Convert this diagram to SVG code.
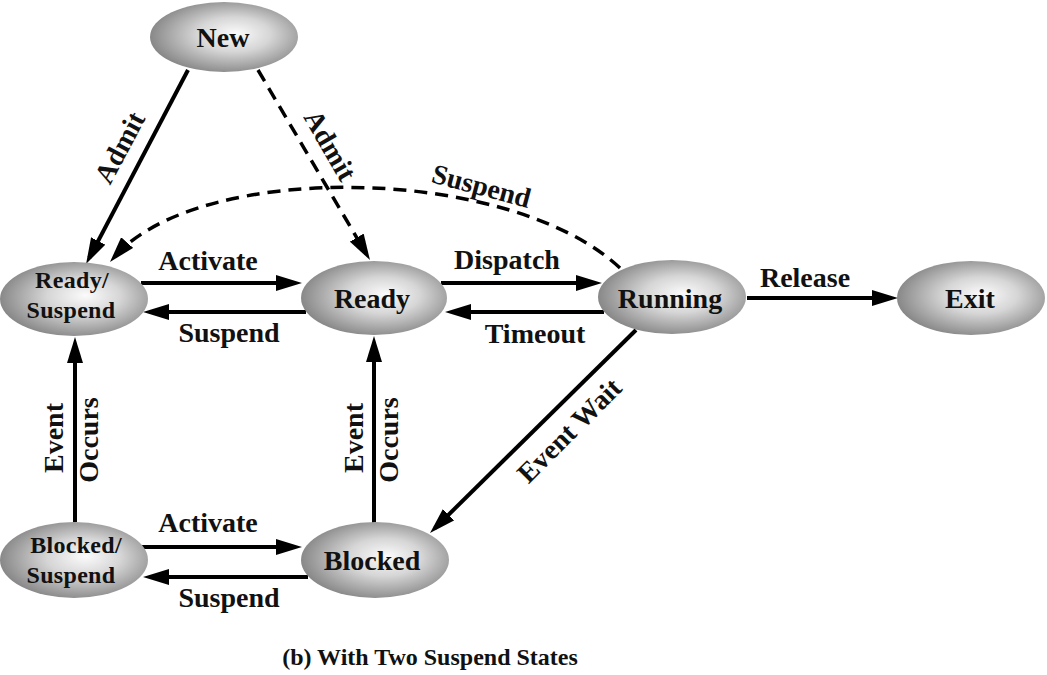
<svg xmlns="http://www.w3.org/2000/svg" width="1047" height="675" viewBox="0 0 1047 675">
  <style>
    .node ellipse { fill: url(#g); stroke: none; }
    text { font-family: "Liberation Serif", "Times New Roman", serif; font-weight: bold; fill: #111; }
    .nl { font-size: 28px; text-anchor: middle; }
    .ns { font-size: 24px; letter-spacing: 0.3px; text-anchor: middle; }
    .lb { font-size: 28px; text-anchor: middle; }
    .cap { font-size: 24px; text-anchor: middle; }
    .c { fill: none; stroke: #000; stroke-width: 4; marker-end: url(#ah); }
    .d { fill: none; stroke: #000; stroke-width: 3.5; stroke-dasharray: 13 8; marker-end: url(#ah); }
  </style>
  <defs>
    <radialGradient id="g" cx="0.55" cy="0.48" r="0.55" fx="0.58" fy="0.45">
      <stop offset="0" stop-color="#fbfbfb"/>
      <stop offset="0.45" stop-color="#d6d6d6"/>
      <stop offset="1" stop-color="#888888"/>
    </radialGradient>
    <marker id="ah" markerUnits="userSpaceOnUse" markerWidth="26" markerHeight="16" refX="19" refY="8" orient="auto" viewBox="0 0 26 16">
      <path d="M0,0 L26,8 L0,16 z" fill="#000"/>
    </marker>
  </defs>
  <rect width="1047" height="675" fill="#fff"/>

  <g id="connectors">
    <path class="c" d="M188 70 L89.3 257.8"/>
    <path class="d" d="M258 70 L366.4 254"/>
    <path class="d" d="M620 268 C510 165, 200 160, 114.6 256.8"/>
    <path class="c" d="M141 283 H295"/>
    <path class="c" d="M306 312 H150"/>
    <path class="c" d="M441 283 H595"/>
    <path class="c" d="M604 312 H452"/>
    <path class="c" d="M747 298 H891"/>
    <path class="c" d="M636 330 L435 528.1"/>
    <path class="c" d="M75 522 V344"/>
    <path class="c" d="M374 523 V343"/>
    <path class="c" d="M140 547 H295"/>
    <path class="c" d="M308 577 H150"/>
  </g>

  <g id="labels">
    <text class="lb" transform="translate(128,152) rotate(-62)">Admit</text>
    <text class="lb" transform="translate(322,150) rotate(60)">Admit</text>
    <text class="lb" transform="translate(479,195) rotate(15)">Suspend</text>
    <text class="lb" x="208" y="270">Activate</text>
    <text class="lb" x="229" y="342">Suspend</text>
    <text class="lb" x="507" y="269">Dispatch</text>
    <text class="lb" x="535" y="343">Timeout</text>
    <text class="lb" x="805" y="287">Release</text>
    <text class="lb" transform="translate(576,437) rotate(-45)">Event Wait</text>
    <text class="lb" transform="translate(63,438) rotate(-90)">Event</text>
    <text class="lb" transform="translate(98,440) rotate(-90)">Occurs</text>
    <text class="lb" transform="translate(363,438) rotate(-90)">Event</text>
    <text class="lb" transform="translate(398,440) rotate(-90)">Occurs</text>
    <text class="lb" x="208" y="532">Activate</text>
    <text class="lb" x="229" y="607">Suspend</text>
  </g>

  <g id="new" class="node">
    <ellipse cx="224" cy="37" rx="74" ry="35"/>
    <text class="nl" x="223" y="47">New</text>
  </g>
  <g id="ready-suspend" class="node">
    <ellipse cx="74" cy="299" rx="74" ry="37"/>
    <text class="ns" x="72" y="288">Ready/</text>
    <text class="ns" x="71" y="318">Suspend</text>
  </g>
  <g id="ready" class="node">
    <ellipse cx="374" cy="298" rx="73" ry="37"/>
    <text class="nl" x="372" y="308">Ready</text>
  </g>
  <g id="running" class="node">
    <ellipse cx="672" cy="297" rx="74" ry="37"/>
    <text class="nl" x="670" y="308">Running</text>
  </g>
  <g id="exit" class="node">
    <ellipse cx="971" cy="298" rx="74" ry="37"/>
    <text class="nl" x="970" y="308">Exit</text>
  </g>
  <g id="blocked-suspend" class="node">
    <ellipse cx="74" cy="560" rx="74" ry="38"/>
    <text class="ns" x="76" y="553">Blocked/</text>
    <text class="ns" x="71" y="583">Suspend</text>
  </g>
  <g id="blocked" class="node">
    <ellipse cx="375" cy="560" rx="74" ry="38"/>
    <text class="nl" x="372" y="570">Blocked</text>
  </g>

  <text class="cap" x="430" y="665">(b) With Two Suspend States</text>
</svg>
